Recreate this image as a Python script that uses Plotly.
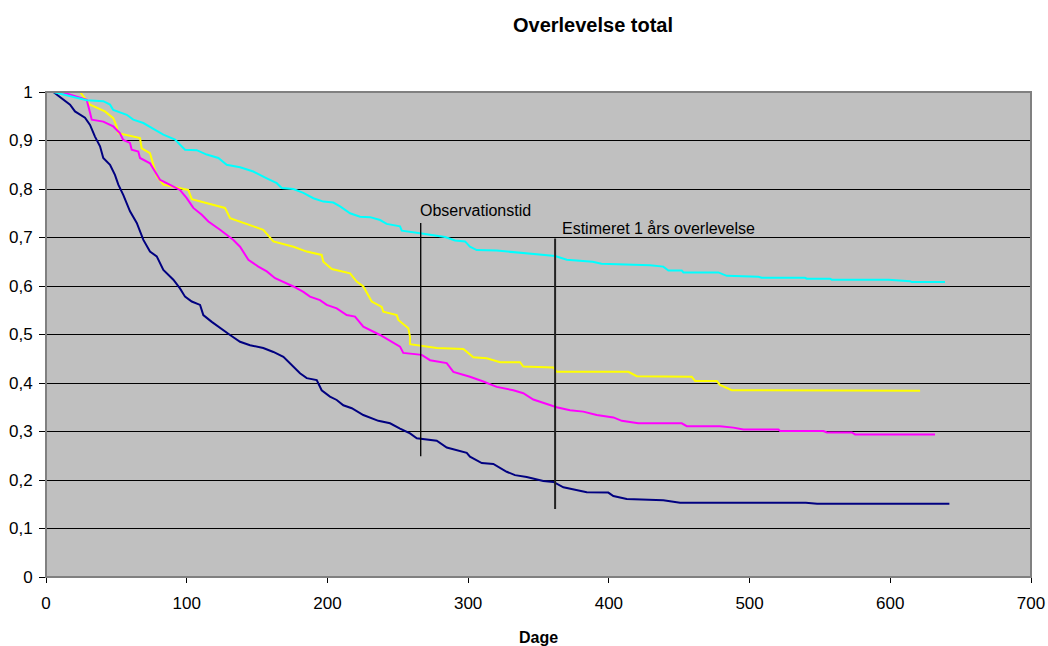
import plotly.graph_objects as go

# Kaplan-Meier style survival curves (days vs. proportion alive)
navy_days = [5.2, 17.1, 20.6, 27.7, 31.3, 34.8, 38.4, 40.7, 45.5, 49.0, 51.4, 54.9, 59.7, 64.5,
             69.2, 73.9, 78.7, 83.4, 90.5, 95.2, 98.8, 103.6, 109.5, 111.8, 117.8, 123.7, 130.8,
             137.9, 145.0, 154.4, 161.6, 168.7, 175.8, 180.5, 185.3, 192.4, 195.9, 201.8, 206.6,
             211.3, 217.3, 225.5, 236.2, 244.5, 251.6, 258.7, 263.5, 277.7, 284.8, 299.0, 301.3,
             309.7, 317.9, 327.4, 333.3, 341.6, 353.4, 360.6, 367.7, 384.3, 399.6, 403.2, 412.7,
             438.7, 450.6, 500.0, 540.0, 548.0, 642.0]
navy_surv = [1.000, 0.974, 0.960, 0.947, 0.932, 0.908, 0.888, 0.864, 0.850, 0.829, 0.809, 0.788,
             0.754, 0.730, 0.695, 0.671, 0.661, 0.633, 0.613, 0.595, 0.578, 0.568, 0.561, 0.540,
             0.526, 0.513, 0.499, 0.485, 0.478, 0.472, 0.464, 0.454, 0.434, 0.420, 0.410, 0.406,
             0.385, 0.372, 0.365, 0.354, 0.348, 0.334, 0.322, 0.317, 0.306, 0.296, 0.286, 0.281,
             0.267, 0.256, 0.248, 0.235, 0.233, 0.217, 0.210, 0.206, 0.198, 0.196, 0.185, 0.175,
             0.174, 0.167, 0.161, 0.158, 0.153, 0.153, 0.153, 0.151, 0.151]

yellow_days = [24.2, 31.3, 41.9, 47.8, 50.2, 51.4, 66.8, 68.0, 73.9, 76.3, 78.7, 83.4, 101.1,
               103.6, 127.2, 130.8, 147.3, 154.4, 161.6, 175.8, 185.3, 195.9, 197.1, 203.1,
               216.1, 220.8, 225.5, 231.5, 238.6, 239.7, 249.3, 250.4, 257.5, 258.7, 258.7,
               270.6, 277.7, 296.6, 303.7, 313.2, 322.7, 336.9, 339.2, 360.6, 363.0, 413.9,
               419.8, 458.9, 461.3, 476.7, 479.0, 487.3, 621.2]
yellow_surv = [1.000, 0.974, 0.960, 0.946, 0.929, 0.915, 0.905, 0.884, 0.874, 0.850, 0.826,
               0.809, 0.798, 0.779, 0.761, 0.740, 0.723, 0.716, 0.692, 0.681, 0.671, 0.664,
               0.650, 0.635, 0.626, 0.609, 0.599, 0.568, 0.557, 0.547, 0.540, 0.530, 0.513,
               0.495, 0.480, 0.475, 0.472, 0.470, 0.453, 0.451, 0.443, 0.443, 0.434, 0.432,
               0.423, 0.423, 0.414, 0.413, 0.404, 0.404, 0.396, 0.385, 0.384]

magenta_days = [11.2, 21.8, 28.9, 31.3, 32.5, 40.7, 47.8, 52.6, 54.9, 59.7, 60.9, 65.6, 66.8,
                73.9, 77.5, 81.0, 85.8, 90.5, 95.2, 100.0, 104.7, 110.7, 115.4, 123.7, 128.4,
                133.2, 137.9, 143.8, 150.9, 156.9, 162.8, 171.1, 175.8, 182.9, 187.6, 194.7,
                199.5, 206.6, 213.7, 219.6, 225.5, 237.4, 251.6, 253.9, 267.0, 272.9, 284.8,
                289.5, 301.3, 310.8, 320.3, 332.1, 339.2, 346.3, 355.8, 362.9, 372.4, 381.8,
                391.4, 403.2, 409.2, 420.9, 451.8, 455.4, 479.0, 488.5, 495.6, 520.5, 521.7,
                552.5, 554.9, 572.7, 575.0, 631.8]
magenta_surv = [1.000, 0.991, 0.984, 0.957, 0.943, 0.939, 0.929, 0.915, 0.901, 0.895, 0.881,
                0.877, 0.864, 0.853, 0.836, 0.819, 0.812, 0.805, 0.798, 0.781, 0.761, 0.747,
                0.733, 0.716, 0.705, 0.695, 0.681, 0.654, 0.640, 0.630, 0.616, 0.606, 0.599,
                0.588, 0.578, 0.571, 0.561, 0.554, 0.540, 0.537, 0.516, 0.499, 0.475, 0.462,
                0.458, 0.447, 0.441, 0.423, 0.413, 0.403, 0.392, 0.385, 0.379, 0.366, 0.357,
                0.350, 0.344, 0.341, 0.334, 0.329, 0.322, 0.317, 0.317, 0.311, 0.311, 0.308,
                0.304, 0.304, 0.301, 0.301, 0.298, 0.298, 0.294, 0.294]

cyan_days = [5.2, 21.8, 28.9, 40.7, 45.5, 47.8, 57.4, 62.0, 69.2, 76.3, 83.4, 91.7, 98.8, 107.1,
             114.2, 122.5, 128.4, 137.9, 147.3, 156.9, 164.0, 167.5, 175.8, 182.9, 190.0, 197.1,
             204.2, 209.0, 216.1, 223.2, 230.3, 237.4, 242.1, 251.6, 252.8, 265.8, 283.6, 290.7,
             297.8, 301.3, 306.1, 320.3, 327.4, 339.2, 351.1, 361.8, 370.1, 388.5, 394.8, 429.3,
             438.7, 442.3, 451.8, 453.0, 477.8, 483.8, 506.3, 508.6, 539.4, 540.6, 557.2, 558.4,
             598.7, 614.1, 615.3, 638.9]
cyan_surv = [1.000, 0.988, 0.983, 0.981, 0.974, 0.963, 0.953, 0.943, 0.936, 0.924, 0.912, 0.902,
             0.881, 0.880, 0.871, 0.864, 0.850, 0.845, 0.836, 0.822, 0.812, 0.802, 0.800, 0.792,
             0.781, 0.774, 0.772, 0.764, 0.750, 0.743, 0.742, 0.736, 0.728, 0.723, 0.714, 0.709,
             0.701, 0.694, 0.692, 0.681, 0.674, 0.673, 0.671, 0.668, 0.664, 0.662, 0.654, 0.650,
             0.646, 0.643, 0.640, 0.632, 0.632, 0.628, 0.628, 0.621, 0.619, 0.617, 0.617, 0.615,
             0.615, 0.613, 0.613, 0.610, 0.608, 0.608]

# Reference markers: observation time and estimated one-year survival
obs_day = 266.3
obs_span = [0.249, 0.730]
year_day = 361.8
year_span = [0.140, 0.698]

x_ticks = [0, 100, 200, 300, 400, 500, 600, 700]
y_ticks = [0, 0.1, 0.2, 0.3, 0.4, 0.5, 0.6, 0.7, 0.8, 0.9, 1]

FONT = "Arial, Liberation Sans, sans-serif"

fig = go.Figure()

for days, surv, color in [
    (navy_days, navy_surv, "#000080"),
    (yellow_days, yellow_surv, "#FFFF00"),
    (magenta_days, magenta_surv, "#FF00FF"),
    (cyan_days, cyan_surv, "#00FFFF"),
]:
    fig.add_trace(go.Scatter(x=days, y=surv, mode="lines",
                             line=dict(color=color, width=2), hoverinfo="skip"))

fig.add_trace(go.Scatter(x=[obs_day, obs_day], y=obs_span, mode="lines",
                         line=dict(color="#000000", width=1.3), hoverinfo="skip"))
fig.add_trace(go.Scatter(x=[year_day, year_day], y=year_span, mode="lines",
                         line=dict(color="#222222", width=2), hoverinfo="skip"))

fig.add_annotation(x=obs_day - 2, y=0.755, text="Observationstid", showarrow=False,
                   xanchor="left", yanchor="middle",
                   font=dict(family=FONT, size=16, color="#000000"))
fig.add_annotation(x=year_day + 3.5, y=0.719, text="Estimeret 1 års overlevelse",
                   showarrow=False, xanchor="left", yanchor="middle",
                   font=dict(family=FONT, size=16, color="#000000"))

# Axis title below the plot
fig.add_annotation(x=0.5, y=-0.124, xref="paper", yref="paper", text="<b>Dage</b>",
                   showarrow=False, xanchor="center", yanchor="middle",
                   font=dict(family=FONT, size=16, color="#000000"))

# Gray frame round the plot area
fig.add_shape(type="rect", xref="paper", yref="paper", x0=0, x1=1, y0=0, y1=1,
              line=dict(color="#808080", width=2), layer="above")

fig.update_layout(
    width=1048, height=646,
    autosize=False,
    margin=dict(l=46, r=17, t=92, b=69, autoexpand=False),
    paper_bgcolor="#FFFFFF",
    plot_bgcolor="#C0C0C0",
    showlegend=False,
    separators=",.",
    font=dict(family=FONT, size=17, color="#000000"),
    title=dict(text="<b>Overlevelse total</b>", x=593 / 1048, xref="container",
               xanchor="center", y=1 - 25 / 646, yref="container", yanchor="middle",
               font=dict(family=FONT, size=20, color="#000000")),
)

fig.update_xaxes(range=[0, 700], tickvals=x_ticks, showgrid=False, zeroline=False,
                 showline=True, linecolor="#000000", linewidth=1, automargin=False,
                 ticks="outside", ticklen=5, tickcolor="#000000",
                 tickfont=dict(family=FONT, size=17),
                 ticklabelstandoff=6, fixedrange=True)
fig.update_yaxes(range=[0, 1], tickvals=y_ticks, showgrid=True, gridcolor="#000000",
                 gridwidth=1, zeroline=False, showline=True, linecolor="#000000",
                 linewidth=1, automargin=False, ticks="outside", ticklen=6,
                 tickcolor="#000000", tickfont=dict(family=FONT, size=17),
                 ticklabelstandoff=3, fixedrange=True)

fig.write_html("out.html")
